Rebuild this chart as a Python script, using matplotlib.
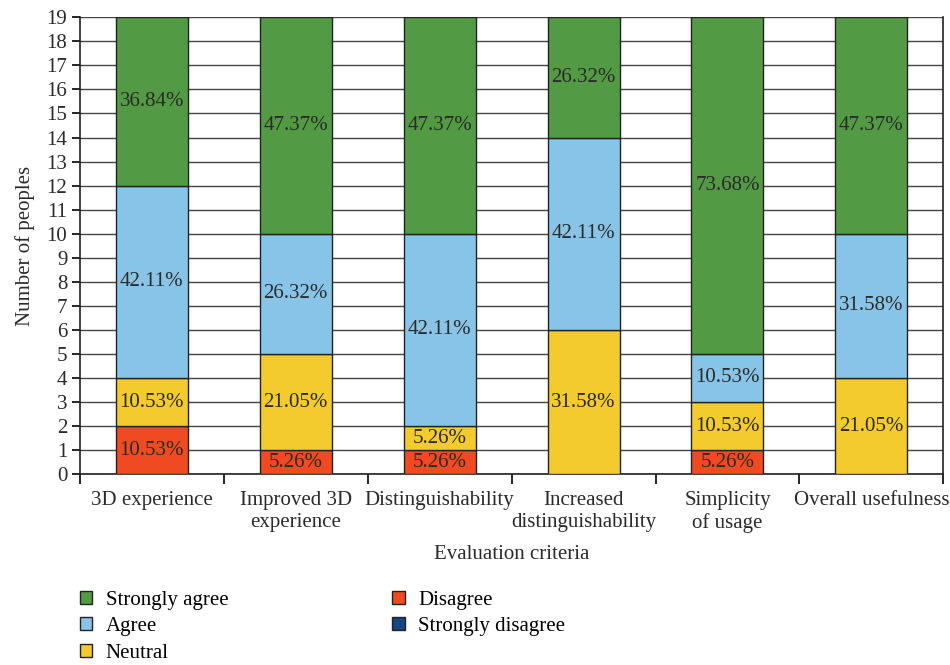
import matplotlib
matplotlib.use("Agg")
import matplotlib.pyplot as plt
import numpy as np

plt.rcParams["font.family"] = ["Liberation Serif", "DejaVu Serif"]

categories = [
    "3D experience",
    "Improved 3D\nexperience",
    "Distinguishability",
    "Increased\ndistinguishability",
    "Simplicity\nof usage",
    "Overall usefulness",
]
# counts of people per answer (19 respondents)
strongly_disagree = [0, 0, 0, 0, 0, 0]
disagree = [2, 1, 1, 0, 1, 0]
neutral = [2, 4, 1, 6, 2, 4]
agree = [8, 5, 8, 8, 2, 6]
strongly_agree = [7, 9, 9, 5, 14, 9]
n_people = 19

series = [
    ("Strongly disagree", strongly_disagree, "#17457f"),
    ("Disagree", disagree, "#ef4a22"),
    ("Neutral", neutral, "#f3cb2f"),
    ("Agree", agree, "#88c4e8"),
    ("Strongly agree", strongly_agree, "#529a43"),
]

fs = 15
txt = "#2a2a2a"

fig = plt.figure(figsize=(9.5, 6.65), dpi=100)
ax = fig.add_axes([0.084, 0.287, 0.909, 0.687])

x = np.arange(len(categories))
bottom = np.zeros(len(categories))
handles = {}
for name, vals, color in series:
    vals = np.array(vals, dtype=float)
    bars = ax.bar(x, vals, width=0.5, bottom=bottom, color=color,
                  edgecolor="#222222", linewidth=1.0, zorder=3)
    handles[name] = bars
    for xi, v, b in zip(x, vals, bottom):
        if v > 0:
            ax.text(xi, b + v / 2, f"{100 * v / n_people:.2f}%",
                    ha="center", va="center", fontsize=fs,
                    color=txt, zorder=4)
    bottom += vals

ax.set_xlim(-0.5, len(categories) - 0.5)
ax.set_ylim(0, 19)
ax.set_yticks(range(0, 20))
ax.yaxis.grid(True, color="#444444", linewidth=1.0, zorder=0)
ax.set_axisbelow(True)

ax.set_xticks(np.arange(len(categories) + 1) - 0.5)
ax.set_xticklabels([])
ax.set_xticks(x, minor=True)
ax.set_xticklabels(categories, minor=True, fontsize=fs, color=txt,
                   linespacing=1.25)
ax.tick_params(axis="x", which="minor", length=0, pad=12)
ax.tick_params(axis="x", which="major", length=7, width=1.2, direction="out")
ax.tick_params(axis="y", length=6, width=1.2, direction="out",
               labelsize=fs, labelcolor=txt, pad=3)

for sp in ax.spines.values():
    sp.set_color("#222222")
    sp.set_linewidth(1.2)
ax.spines["top"].set_visible(False)

ax.set_xlabel("Evaluation criteria", fontsize=fs, color=txt, labelpad=8)
ax.set_ylabel("Number of peoples", fontsize=fs, color=txt, labelpad=8)

order = ["Strongly agree", "Agree", "Neutral", "Disagree", "Strongly disagree"]
fig.legend([handles[k] for k in order], order, ncol=2,
           loc="upper left", bbox_to_anchor=(0.084, 0.112),
           frameon=False, fontsize=fs, handlelength=0.6, handleheight=0.6,
           handletextpad=0.65, columnspacing=7.85, labelspacing=0.36,
           borderaxespad=0, borderpad=0)

fig.savefig("out.png", dpi=100)
